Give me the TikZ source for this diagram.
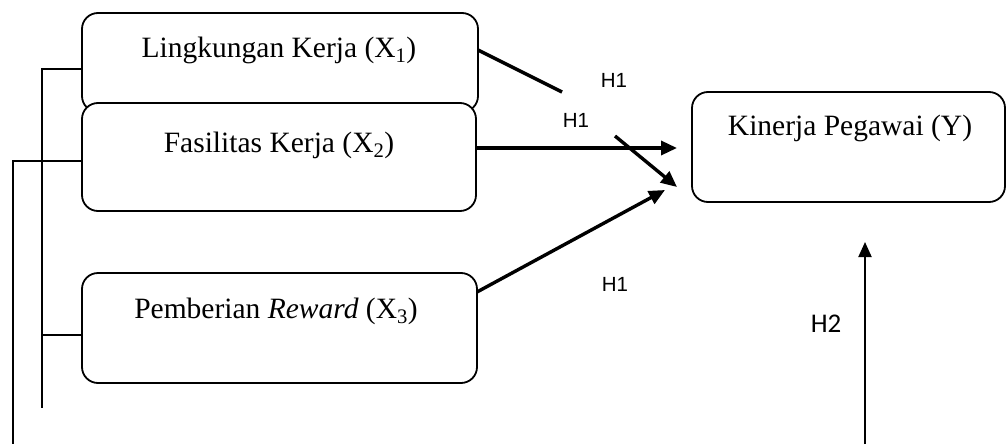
\documentclass[tikz,border=0pt]{standalone}
\usepackage{fontspec}
\setmainfont{Liberation Serif}
\newfontfamily\hfont{Liberation Sans}
\newfontfamily\hhfont{Carlito}
\usetikzlibrary{arrows.meta}
\begin{document}
\begin{tikzpicture}[x=1pt,y=-1pt,
  boxstyle/.style={draw,line width=1.8pt,rounded corners=16pt,fill=white},
  boxtext/.style={font=\fontsize{29.5}{33}\selectfont,inner sep=0pt},
  hlabel/.style={font=\hfont\fontsize{20.5}{24}\selectfont,inner sep=0pt},
  hhlabel/.style={font=\hhfont\fontsize{27}{30}\selectfont,inner sep=0pt},
  thickarrow/.style={line width=3.4pt,-{Triangle[length=16pt,width=14pt]}},
  thickline/.style={line width=3.4pt},
  thinline/.style={line width=1.6pt},
  harrow/.style={line width=2pt,-{Triangle[length=15pt,width=13pt]}}]
\useasboundingbox (0,0) rectangle (1008,444);
% boxes
\draw[boxstyle] (82,13) rectangle (478,112);
\coordinate (b1e) at (478,50);
\coordinate (b1w) at (82,69);
\draw[boxstyle] (82,103) rectangle (476,211);
\coordinate (b2e) at (476,148);
\coordinate (b2w) at (82,161);
\draw[boxstyle] (82,273) rectangle (477,383);
\coordinate (b3e) at (477,292);
\coordinate (b3w) at (82,335);
\draw[boxstyle] (692,92) rectangle (1005,202);
\node[boxtext] (t1) at (279,50) {Lingkungan Kerja (X\textsubscript{1})};
\node[boxtext] (t2) at (279,145) {Fasilitas Kerja (X\textsubscript{2})};
\node[boxtext] (t3) at (276,311) {Pemberian \textit{Reward} (X\textsubscript{3})};
\node[boxtext] (ty) at (850,128) {Kinerja Pegawai (Y)};
% arrows
\coordinate (c1) at (562,92);
\coordinate (c2) at (615,136);
\coordinate (ta) at (677,148);
\coordinate (tb) at (677,187);
\coordinate (tc) at (665,190);
\draw[thickline] (b1e) -- (c1);
\draw[thickarrow] (c2) -- (tb);
\draw[thickarrow] (b2e) -- (ta);
\draw[thickarrow] (b3e) -- (tc);
\coordinate (h2s) at (865,444);
\coordinate (h2e) at (865,242);
\draw[harrow] (h2s) -- (h2e);
% left lines
\coordinate (l1) at (42,69);
\coordinate (l1b) at (42,408);
\coordinate (l1m) at (42,335);
\coordinate (l2) at (13,161);
\coordinate (l2b) at (13,444);
\draw[thinline] (b1w) -- (l1) -- (l1b);
\draw[thinline] (l1m) -- (b3w);
\draw[thinline] (b2w) -- (l2) -- (l2b);
% labels
\node[hlabel] (h1a) at (614,80) {H1};
\node[hlabel] (h1b) at (576,120) {H1};
\node[hlabel] (h1c) at (615,284) {H1};
\node[hhlabel] (h2) at (826,324) {H2};
\end{tikzpicture}
\end{document}
